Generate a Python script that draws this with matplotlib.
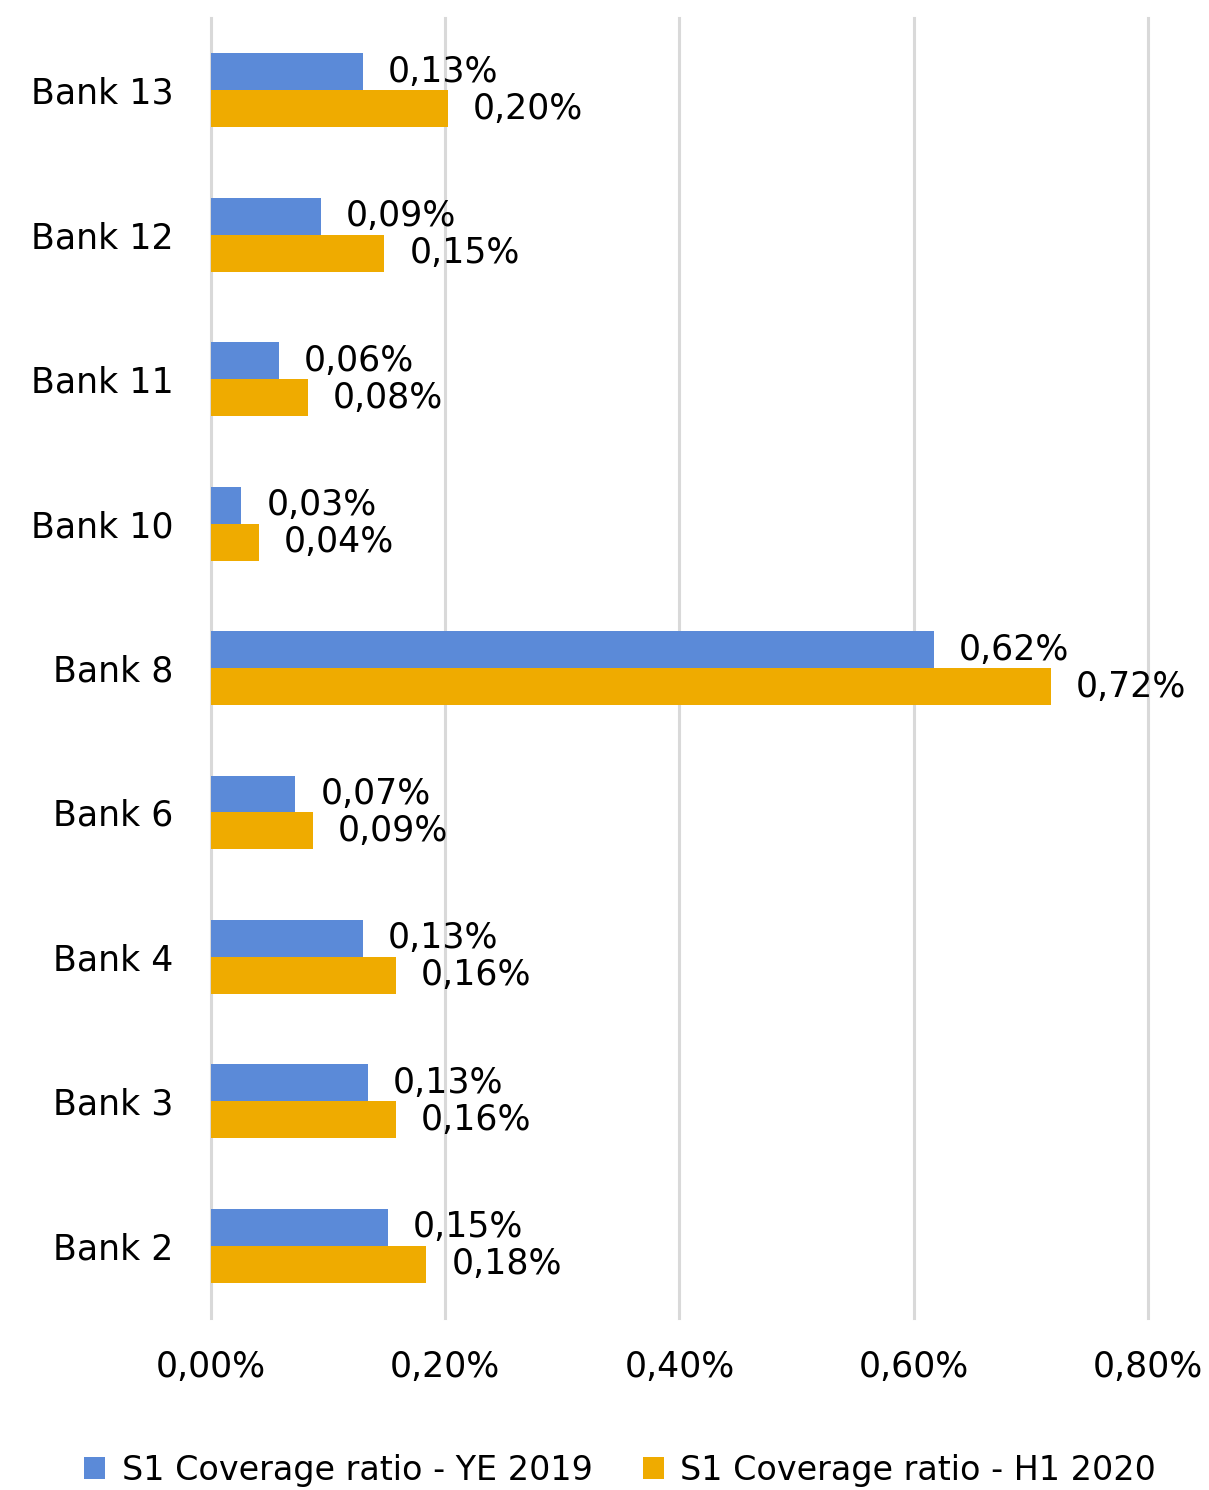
import matplotlib.pyplot as plt
import numpy as np

banks = ["Bank 13", "Bank 12", "Bank 11", "Bank 10", "Bank 8", "Bank 6", "Bank 4", "Bank 3", "Bank 2"]
ye2019 = [0.13, 0.094, 0.058, 0.026, 0.617, 0.072, 0.13, 0.134, 0.151]
h12020 = [0.202, 0.148, 0.083, 0.041, 0.717, 0.087, 0.158, 0.158, 0.184]
xticks = [0.0, 0.2, 0.4, 0.6, 0.8]

blue = "#5B8AD8"
orange = "#EFAB00"

plt.rcParams["font.family"] = ["DejaVu Sans"]


def pct(v):
    return f"{v:.2f}".replace(".", ",") + "%"


fig = plt.figure(figsize=(12.09, 14.9), dpi=100)
ax = fig.add_axes([0.1745, 0.1154, 0.7750, 0.8725])

y = np.arange(len(banks))
h = 0.256
b1 = ax.barh(y - h / 2, ye2019, height=h, color=blue, label="S1 Coverage ratio - YE 2019", zorder=3)
b2 = ax.barh(y + h / 2, h12020, height=h, color=orange, label="S1 Coverage ratio - H1 2020", zorder=3)

# value labels right of each bar
for bars, vals in ((b1, ye2019), (b2, h12020)):
    for bar, v in zip(bars, vals):
        ax.annotate(pct(v), (v, bar.get_y() + bar.get_height() / 2),
                    xytext=(18, 0), textcoords="offset points",
                    ha="left", va="center", fontsize=25)

ax.set_ylim(len(banks) - 0.5, -0.5)
ax.set_xlim(0, 0.8)
ax.set_yticks(y)
ax.set_yticklabels(banks, fontsize=25)
ax.set_xticks(xticks)
ax.set_xticklabels([pct(t) for t in xticks], fontsize=25)
ax.tick_params(axis="both", length=0)
ax.tick_params(axis="x", pad=23)
ax.tick_params(axis="y", pad=27)
ax.grid(axis="x", color="#D9D9D9", linewidth=2.2, zorder=0)
# edge gridlines would be cut in half otherwise
for gl in ax.get_xgridlines():
    gl.set_clip_on(False)
for s in ax.spines.values():
    s.set_visible(False)

fig.legend(handles=[b1, b2], loc="center", bbox_to_anchor=(0.513, 0.0134), ncol=2,
           frameon=False, fontsize=24, handlelength=0.63, handleheight=0.63,
           handletextpad=0.5, columnspacing=1.5, borderpad=0)

fig.savefig("out.png", dpi=100)
